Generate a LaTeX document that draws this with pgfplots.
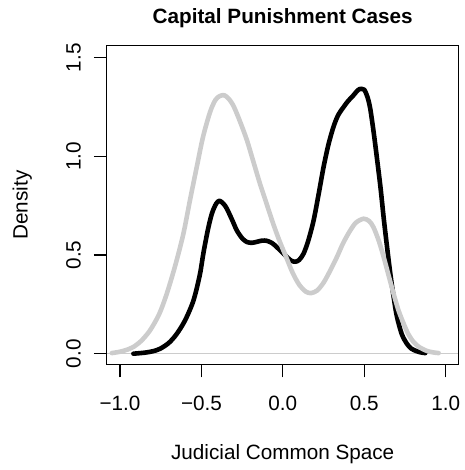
\documentclass[border=0pt]{standalone}
\usepackage{fontspec}
\setmainfont{Liberation Sans}
\usepackage{pgfplots}
\pgfplotsset{compat=1.18}
\definecolor{lgray}{HTML}{CCCCCC}
\begin{document}
\fontsize{20.7pt}{24.8pt}\selectfont
\begin{tikzpicture}[x=1pt,y=1pt]
\path[use as bounding box] (0,0) rectangle (464,470);
\begin{axis}[
  at={(106.7pt,105.3pt)}, anchor=south west,
  scale only axis, width=352pt, height=319.4pt,
  xmin=-1.082, xmax=1.08, ymin=-0.0558, ymax=1.563,
  axis line style={black, line width=1.2pt},
  tick style={black, line width=1.2pt},
  tick align=outside, major tick length=12.7pt,
  xtick pos=bottom, ytick pos=left,
  xtick={-1,-0.5,0,0.5,1},
  xticklabels={−1.0,−0.5,0.0,0.5,1.0},
  ytick={0,0.5,1,1.5},
  yticklabels={0.0,0.5,1.0,1.5},
  xticklabel style={anchor=base, yshift=-32.6pt},
  yticklabel style={xshift=-13.3pt, rotate=90, anchor=base},
  clip=true,
]
\addplot[lgray, line width=1pt] coordinates {(-1.082,0) (1.08,0)};
\addplot[black, line width=4.6pt, smooth, tension=0.5, line cap=round, line join=round] coordinates {
(-0.918,0.0) (-0.85,0.005) (-0.80,0.012) (-0.754,0.025) (-0.70,0.055) (-0.652,0.10) (-0.60,0.17) (-0.549,0.27) (-0.51,0.40) (-0.488,0.51) (-0.46,0.63) (-0.436,0.71) (-0.41,0.76) (-0.389,0.775) (-0.365,0.76) (-0.344,0.735) (-0.31,0.675) (-0.283,0.625) (-0.25,0.585) (-0.221,0.566) (-0.19,0.562) (-0.16,0.567) (-0.128,0.573) (-0.098,0.572) (-0.065,0.56) (-0.037,0.54) (0.0,0.51) (0.025,0.49) (0.05,0.472) (0.076,0.466) (0.10,0.475) (0.127,0.507) (0.155,0.57) (0.189,0.676) (0.22,0.81) (0.25,0.946) (0.28,1.06) (0.311,1.15) (0.34,1.21) (0.373,1.25) (0.40,1.28) (0.434,1.31) (0.46,1.335) (0.48,1.343) (0.50,1.338) (0.52,1.30) (0.537,1.24) (0.558,1.12) (0.578,0.99) (0.60,0.84) (0.619,0.69) (0.64,0.54) (0.66,0.405) (0.68,0.29) (0.70,0.19) (0.73,0.10) (0.762,0.05) (0.79,0.025) (0.824,0.012) (0.85,0.006) (0.875,0.003)
};
\addplot[lgray, line width=4.6pt, smooth, tension=0.5, line cap=round, line join=round] coordinates {
(-1.051,0.003) (-1.0,0.01) (-0.95,0.022) (-0.918,0.034) (-0.87,0.065) (-0.816,0.118) (-0.76,0.20) (-0.713,0.304) (-0.66,0.45) (-0.611,0.608) (-0.57,0.78) (-0.529,0.946) (-0.49,1.10) (-0.447,1.225) (-0.415,1.285) (-0.389,1.305) (-0.36,1.31) (-0.33,1.29) (-0.30,1.25) (-0.26,1.17) (-0.22,1.08) (-0.18,0.97) (-0.14,0.86) (-0.10,0.76) (-0.06,0.66) (-0.02,0.57) (0.02,0.49) (0.06,0.41) (0.10,0.35) (0.14,0.315) (0.172,0.307) (0.21,0.32) (0.25,0.36) (0.29,0.42) (0.332,0.49) (0.37,0.56) (0.414,0.625) (0.45,0.665) (0.496,0.684) (0.53,0.672) (0.557,0.64) (0.59,0.57) (0.619,0.49) (0.65,0.395) (0.68,0.304) (0.71,0.22) (0.742,0.152) (0.77,0.10) (0.803,0.059) (0.84,0.032) (0.885,0.014) (0.92,0.007) (0.957,0.003)
};
\end{axis}
\draw[black, line width=1.2pt] (106.7,105.3) rectangle (458.7,424.7);
\node[anchor=base, font=\bfseries] at (282.7,446) {Capital Punishment Cases};
\node[anchor=base] at (282.7,10) {Judicial Common Space};
\node[anchor=base, rotate=90] at (27.5,265) {Density};
\end{tikzpicture}
\end{document}
